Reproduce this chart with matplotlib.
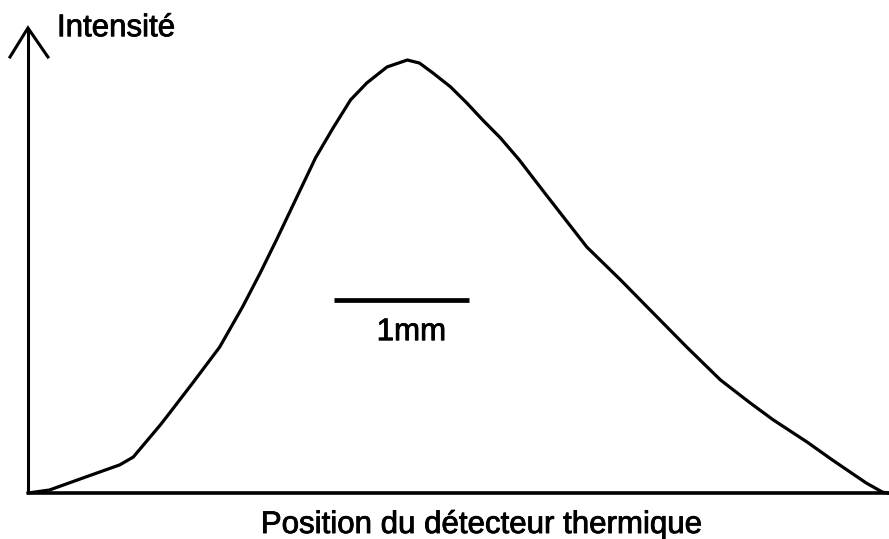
import matplotlib
matplotlib.use("Agg")
import matplotlib.pyplot as plt
import matplotlib.patheffects as pe

# Detector position (mm) and intensity (arbitrary units, peak = 100)
position_mm = [0.00, 0.16, 0.41, 0.68, 0.78, 0.98, 1.05, 1.22, 1.42, 1.59,
               1.72, 1.84, 2.13, 2.26, 2.39, 2.51, 2.66, 2.81, 2.90, 3.00,
               3.13, 3.25, 3.37, 3.50, 3.64, 3.84, 4.14, 4.39, 4.63, 4.88,
               5.13, 5.35, 5.52, 5.77, 5.96, 6.21, 6.33, 6.37]
intensity = [0.0, 0.7, 3.5, 6.5, 8.3, 15.7, 18.5, 25.4, 33.7, 43.0,
             50.8, 58.4, 77.4, 84.3, 90.8, 94.7, 98.4, 100.0, 99.3, 97.0,
             93.8, 90.1, 86.1, 82.0, 76.9, 68.8, 56.8, 49.2, 41.6, 33.7,
             26.1, 20.8, 16.9, 11.8, 7.6, 2.3, 0.2, 0.0]

scale_bar_length_mm = 1.0
scale_bar_label = "1mm"
x_label = "Position du détecteur thermique"
y_label = "Intensité"

plt.rcParams['font.family'] = ['Liberation Sans', 'DejaVu Sans']

fig = plt.figure(figsize=(8.89, 5.39), dpi=100)
ax = fig.add_axes([0, 0, 1, 1])
ax.set_xlim(-0.207, 6.378)
ax.set_ylim(-10.62, 113.86)
ax.axis('off')

# axes lines
ax.plot([-0.01, 6.4], [0, 0], color='black', lw=2.6, solid_capstyle='butt')
ax.plot([0, 0], [0, 107.4], color='black', lw=2.2, solid_capstyle='butt')
# open arrow head
ax.plot([-0.133, 0, 0.148], [100.7, 107.4, 100.7], color='black', lw=2.2,
        solid_joinstyle='miter')

# curve
ax.plot(position_mm, intensity, color='black', lw=2.3, solid_joinstyle='round')

# scale bar
x0 = 2.27
ax.plot([x0, x0 + scale_bar_length_mm], [44.6, 44.6], color='black', lw=3.4,
        solid_capstyle='butt')

bold = [pe.withStroke(linewidth=0.6, foreground='black')]
ax.text(2.84, 35.3, scale_bar_label, ha='center', va='baseline', fontsize=22.5,
        path_effects=bold)
ax.text(0.215, 105.5, y_label, ha='left', va='baseline', fontsize=22.5,
        path_effects=bold)
ax.text(3.36, -9.24, x_label, ha='center', va='baseline', fontsize=22.5,
        path_effects=bold)

fig.savefig('out.png', dpi=100)
